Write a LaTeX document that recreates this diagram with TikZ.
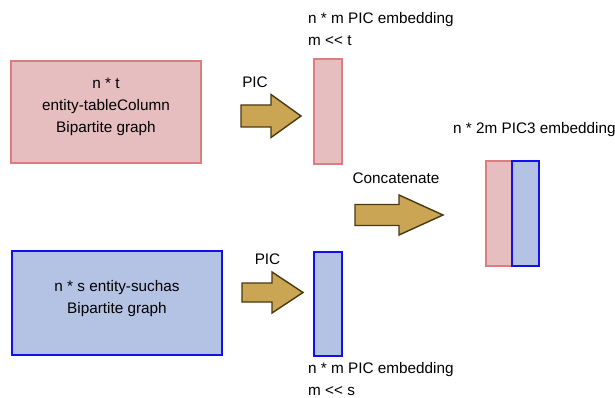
\documentclass[tikz,border=0pt]{standalone}
\usepackage{fontspec}
\setmainfont{Liberation Sans}
\definecolor{pinkfill}{HTML}{E6BEC0}
\definecolor{pinkline}{HTML}{DD7D7F}
\definecolor{bluefill}{HTML}{B4C2E4}
\definecolor{blueline}{HTML}{1010F0}
\definecolor{arrowfill}{HTML}{C9A554}
\definecolor{arrowline}{HTML}{4A3810}
% x0, x1, head base, y centre, half shaft, half head
\newcommand{\fatarrow}[6]{%
  \draw[fatarrow] (#1,#4-#5) -- (#3,#4-#5) -- (#3,#4-#6) -- (#2,#4)
    -- (#3,#4+#6) -- (#3,#4+#5) -- (#1,#4+#5) -- cycle;}
\newcommand{\muchless}{<\kern0pt<}
\begin{document}
\begin{tikzpicture}[x=1pt, y=-1pt]
	\tikzset{pinkbox/.style={draw=pinkline, fill=pinkfill, line width=1.4pt}}
	\tikzset{bluebox/.style={draw=blueline, fill=bluefill, line width=1.4pt}}
	\tikzset{fatarrow/.style={draw=arrowline, fill=arrowfill, line width=1.4pt, line join=miter}}
	\tikzset{lbl/.style={font=\fontsize{15.3}{22}\selectfont, inner sep=0pt, align=center}}
	\tikzset{lblleft/.style={lbl, align=left, anchor=west}}

	\useasboundingbox (0,0) rectangle (615,398);

	% input graphs
	\draw[pinkbox] (11,61) rectangle (201,163);
	\node[lbl] (tabletext) at (106,107) {n * t\\entity-tableColumn\\Bipartite graph};
	\draw[bluebox] (12,251) rectangle (222,355);
	\node[lbl] (suchtext) at (117,298.5) {n * s entity-suchas\\Bipartite graph};

	% PIC arrows
	\fatarrow{241}{301}{271}{116}{11}{21.5}
	\node[lbl] (pictop) at (255,82) {PIC};
	\fatarrow{242}{303}{272}{292.5}{9.5}{20.5}
	\node[lbl] (picbot) at (267.5,259) {PIC};

	% embeddings
	\draw[pinkbox] (314,59) rectangle (342,164);
	\node[lblleft] (embtop) at (308,29) {n * m PIC embedding\\m \muchless{} t};
	\draw[bluebox] (314,252) rectangle (342,356);
	\node[lblleft] (embbot) at (308,379) {n * m PIC embedding\\m \muchless{} s};

	% concatenation
	\fatarrow{355}{443}{399}{215}{10.5}{20}
	\node[lbl] (concat) at (396,178) {Concatenate};
	\draw[pinkbox] (486,161) rectangle (512,266);
	\draw[bluebox] (512,161) rectangle (539,266);
	\node[lblleft] (embcat) at (453,130) {n * 2m PIC3 embedding};
\end{tikzpicture}
\end{document}
